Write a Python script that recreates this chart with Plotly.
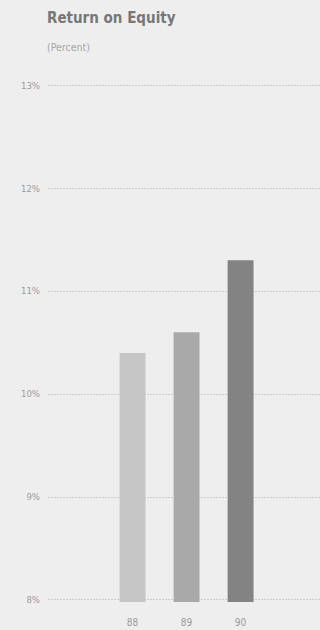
import plotly.graph_objects as go

# Return on equity by fiscal year (percent)
years = ["88", "89", "90"]
roe = [10.4, 10.6, 11.3]
bar_colors = ["#c6c6c6", "#a9a9a9", "#838383"]

tick_vals = [8, 9, 10, 11, 12, 13]
tick_text = ["8%", "9%", "10%", "11%", "12%", "13%"]

fig = go.Figure(
    go.Bar(
        x=years,
        y=roe,
        marker=dict(color=bar_colors, line=dict(width=0)),
        hoverinfo="skip",
    )
)

fig.update_layout(
    width=320,
    height=630,
    margin=dict(l=48, r=0, t=75, b=28),
    paper_bgcolor="#eeeeee",
    plot_bgcolor="#eeeeee",
    bargap=0.52,
    showlegend=False,
    font=dict(family="DejaVu Sans Condensed", color="#9a9a9a", size=9),
)

fig.update_xaxes(
    type="category",
    range=[-1.565, 3.47],
    showgrid=False,
    showline=False,
    zeroline=False,
    ticks="",
    ticklabelstandoff=13,
    automargin=False,
    tickfont=dict(size=10, color="#9a9a9a"),
)

fig.update_yaxes(
    range=[7.98, 13.1],
    tickvals=tick_vals,
    ticktext=tick_text,
    showgrid=True,
    gridcolor="#cbcbcb",
    gridwidth=1,
    griddash="2px,1px",
    zeroline=False,
    showline=False,
    ticks="",
    ticklabelstandoff=7,
    automargin=False,
    tickfont=dict(size=9.5, color="#9c9c9c"),
)

fig.add_annotation(
    text="<b>Return on Equity</b>",
    xref="paper", yref="paper",
    x=0.0, y=1.0,
    xanchor="left", yanchor="bottom",
    xshift=-3,
    yshift=46,
    showarrow=False,
    font=dict(family="DejaVu Sans Condensed", size=15, color="#777777"),
)
fig.add_annotation(
    text="(Percent)",
    xref="paper", yref="paper",
    x=0.0, y=1.0,
    xanchor="left", yanchor="bottom",
    xshift=-3,
    yshift=20,
    showarrow=False,
    font=dict(family="DejaVu Sans Condensed", size=10.5, color="#a6a6a6"),
)

fig.write_html("out.html")
